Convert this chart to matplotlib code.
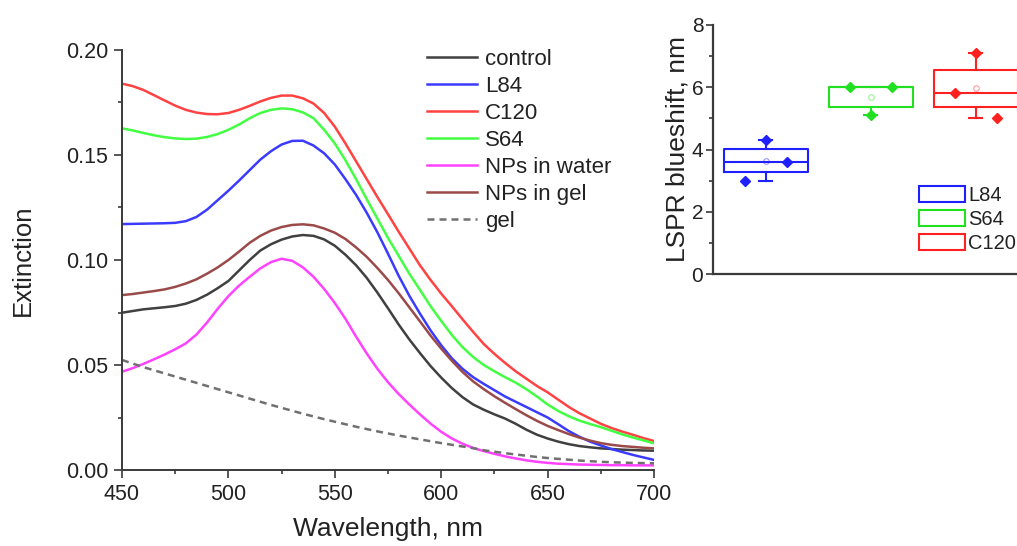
import numpy as np
import matplotlib
matplotlib.use("Agg")
import matplotlib.pyplot as plt
from matplotlib.patches import Patch
from matplotlib.ticker import MultipleLocator, FormatStrFormatter

plt.rcParams['font.family'] = ['Liberation Sans', 'DejaVu Sans']

# ---- extinction spectra (5 nm steps, 450-700 nm) ----
wavelength = list(range(450, 701, 5))

control = [.0749, .0757, .0765, .0770, .0775, .0781, .0792, .0810, .0835, .0866,
           .0900, .0950, .1000, .1045, .1075, .1097, .1112, .1119, .1115, .1098,
           .1068, .1025, .0975, .0915, .0845, .0770, .0693, .0622, .0557, .0495,
           .0440, .0390, .0347, .0312, .0287, .0265, .0245, .0220, .0192, .0168,
           .0150, .0135, .0123, .0114, .0108, .0103, .0100, .0097, .0095, .0093,
           .0092]
l84 = [.1171, .1172, .1173, .1174, .1175, .1177, .1185, .1205, .1240, .1285,
       .1330, .1378, .1428, .1478, .1518, .1550, .1567, .1568, .1545, .1508,
       .1455, .1385, .1310, .1225, .1132, .1030, .0925, .0830, .0745, .0665,
       .0594, .0532, .0482, .0442, .0410, .0380, .0350, .0325, .0300, .0275,
       .0250, .0218, .0185, .0158, .0135, .0117, .0100, .0086, .0072, .0060,
       .0048]
c120 = [.1840, .1828, .1810, .1785, .1760, .1735, .1715, .1702, .1695, .1694,
        .1700, .1715, .1734, .1755, .1772, .1783, .1783, .1770, .1745, .1700,
        .1635, .1555, .1470, .1385, .1300, .1218, .1135, .1055, .0975, .0905,
        .0840, .0780, .0718, .0658, .0600, .0553, .0510, .0470, .0435, .0400,
        .0370, .0335, .0300, .0270, .0245, .0220, .0200, .0183, .0168, .0152,
        .0138]
s64 = [.1627, .1617, .1605, .1594, .1585, .1579, .1576, .1578, .1586, .1600,
       .1620, .1645, .1675, .1700, .1715, .1722, .1718, .1703, .1675, .1620,
       .1555, .1475, .1385, .1290, .1197, .1105, .1020, .0935, .0858, .0780,
       .0710, .0643, .0585, .0538, .0500, .0470, .0442, .0416, .0385, .0350,
       .0312, .0281, .0256, .0235, .0219, .0204, .0187, .0170, .0155, .0141,
       .0127]
nps_water = [.0468, .0485, .0505, .0527, .0550, .0575, .0603, .0645, .0703, .0768,
             .0828, .0878, .0920, .0960, .0990, .1006, .0996, .0965, .0920, .0862,
             .0795, .0720, .0635, .0555, .0482, .0418, .0362, .0312, .0265, .0221,
             .0182, .0150, .0125, .0105, .0090, .0077, .0065, .0055, .0046, .0039,
             .0034, .0030, .0028, .0026, .0025, .0024, .0023, .0023, .0022, .0022,
             .0022]
nps_gel = [.0833, .0838, .0845, .0852, .0860, .0872, .0888, .0908, .0935, .0965,
           .1000, .1040, .1082, .1115, .1140, .1157, .1167, .1170, .1165, .1150,
           .1130, .1100, .1060, .1015, .0962, .0905, .0842, .0775, .0708, .0640,
           .0578, .0520, .0467, .0422, .0385, .0351, .0320, .0290, .0261, .0234,
           .0210, .0190, .0171, .0154, .0140, .0128, .0120, .0114, .0110, .0106,
           .0103]
gel = [.0524, .0507, .0490, .0475, .0460, .0445, .0430, .0415, .0400, .0385,
       .0370, .0355, .0340, .0325, .0310, .0296, .0282, .0268, .0255, .0242,
       .0230, .0218, .0206, .0195, .0184, .0174, .0164, .0155, .0146, .0137,
       .0128, .0120, .0112, .0104, .0094, .0087, .0080, .0074, .0068, .0062,
       .0057, .0053, .0049, .0045, .0042, .0039, .0037, .0035, .0034, .0033,
       .0032]

spectra_labels = ['control', 'L84', 'C120', 'S64', 'NPs in water', 'NPs in gel', 'gel']
spectra = [control, l84, c120, s64, nps_water, nps_gel, gel]
spectra_colors = ['#404040', '#3b3bff', '#ff4242', '#42ff42', '#ff42ff', '#9b4a4a', '#707070']

# ---- LSPR blueshift per polymer ----
groups = ['L84', 'S64', 'C120']
group_colors = ['#2020ff', '#20e020', '#ff2020']
shift_points = [[3.0, 4.3, 3.6], [6.0, 5.1, 6.0], [5.8, 7.1, 5.0]]
box_q1 = [3.27, 5.37, 5.36]
box_median = [3.60, 6.00, 5.80]
box_q3 = [4.02, 6.00, 6.57]
point_offsets = [-0.2, 0.0, 0.2]

W, H = 1017, 546
fig = plt.figure(figsize=(W / 100, H / 100), dpi=100)

axis_color = '#3a3a3a'
text_color = '#222222'

# Left panel: spectra
ax = fig.add_axes([122 / W, 1 - 470 / H, 532 / W, 420 / H])
for lab, vals, col in zip(spectra_labels, spectra, spectra_colors):
    if lab == 'gel':
        ax.plot(wavelength, vals, color=col, lw=1.8, dashes=(2.8, 2.0), label=lab)
    else:
        ax.plot(wavelength, vals, color=col, lw=1.8, label=lab)
ax.set_xlim(450, 700)
ax.set_ylim(0, 0.2)
ax.xaxis.set_major_locator(MultipleLocator(50))
ax.xaxis.set_minor_locator(MultipleLocator(25))
ax.yaxis.set_major_locator(MultipleLocator(0.05))
ax.yaxis.set_minor_locator(MultipleLocator(0.025))
ax.yaxis.set_major_formatter(FormatStrFormatter('%.2f'))
for s in ('top', 'right'):
    ax.spines[s].set_visible(False)
for s in ('left', 'bottom'):
    ax.spines[s].set_color(axis_color)
    ax.spines[s].set_linewidth(1.4)
ax.tick_params(which='major', direction='out', length=6, width=1.2, color=axis_color,
               labelsize=15.5, pad=4, labelcolor=text_color)
ax.tick_params(which='minor', direction='out', length=3, width=1.2, color=axis_color)
ax.set_xlabel('Wavelength, nm', fontsize=19, color=text_color)
ax.set_ylabel('Extinction', fontsize=18.5, color=text_color)
ax.xaxis.set_label_coords(0.5, -0.112)
ax.yaxis.set_label_coords(-0.163, 0.5)

leg = ax.legend(loc='upper left', bbox_to_anchor=(427 / W, 1 - 49 / H),
                bbox_transform=fig.transFigure, frameon=False, fontsize=16,
                handlelength=2.25, handletextpad=0.35, labelspacing=0.27,
                borderpad=0, borderaxespad=0)
for t in leg.get_texts():
    t.set_color(text_color)

# Right panel: blueshift box chart
ax2 = fig.add_axes([713 / W, 1 - 274 / H, 315 / W, 249 / H])
for i, (pts, col) in enumerate(zip(shift_points, group_colors)):
    pos = i + 1
    stats = [{
        'q1': box_q1[i], 'med': box_median[i], 'q3': box_q3[i],
        'whislo': min(pts), 'whishi': max(pts), 'mean': float(np.mean(pts)),
        'fliers': [],
    }]
    ax2.bxp(stats, positions=[pos], widths=0.8, showmeans=True, showfliers=False,
            capwidths=0.12, manage_ticks=False,
            boxprops=dict(color=col, lw=1.5),
            medianprops=dict(color=col, lw=1.5),
            whiskerprops=dict(color=col, lw=1.5),
            capprops=dict(color=col, lw=1.5),
            meanprops=dict(marker='o', markersize=4, markerfacecolor='none',
                           markeredgecolor=col, markeredgewidth=0.8, alpha=0.45))
    ax2.plot([pos + o for o in point_offsets], pts, linestyle='none', marker='D',
             markersize=5.5, color=col, zorder=4)

ax2.set_xlim(0.5, 3.5)
ax2.set_ylim(0, 8)
ax2.set_xticks([])
ax2.yaxis.set_major_locator(MultipleLocator(2))
ax2.yaxis.set_minor_locator(MultipleLocator(1))
for s in ('top', 'right'):
    ax2.spines[s].set_visible(False)
for s in ('left', 'bottom'):
    ax2.spines[s].set_color(axis_color)
    ax2.spines[s].set_linewidth(1.6)
ax2.tick_params(which='major', direction='out', length=5, width=1.2, color=axis_color,
                labelsize=15, pad=2, labelcolor=text_color)
ax2.tick_params(which='minor', direction='out', length=3, width=1.2, color=axis_color)
ax2.set_ylabel('LSPR blueshift, nm', fontsize=19, color=text_color)
ax2.yaxis.set_label_coords(-0.075, 0.5)

handles = [Patch(facecolor='white', edgecolor=c, linewidth=1.5, label=g)
           for g, c in zip(groups, group_colors)]
leg2 = ax2.legend(handles=handles, loc='upper left',
                  bbox_to_anchor=(919 / W, 1 - 186 / H), bbox_transform=fig.transFigure,
                  frameon=False, fontsize=14.5, handlelength=2.3, handleheight=0.8,
                  handletextpad=0.15, labelspacing=0.25, borderpad=0, borderaxespad=0)
for t in leg2.get_texts():
    t.set_color(text_color)

fig.savefig('out.png', dpi=100)
